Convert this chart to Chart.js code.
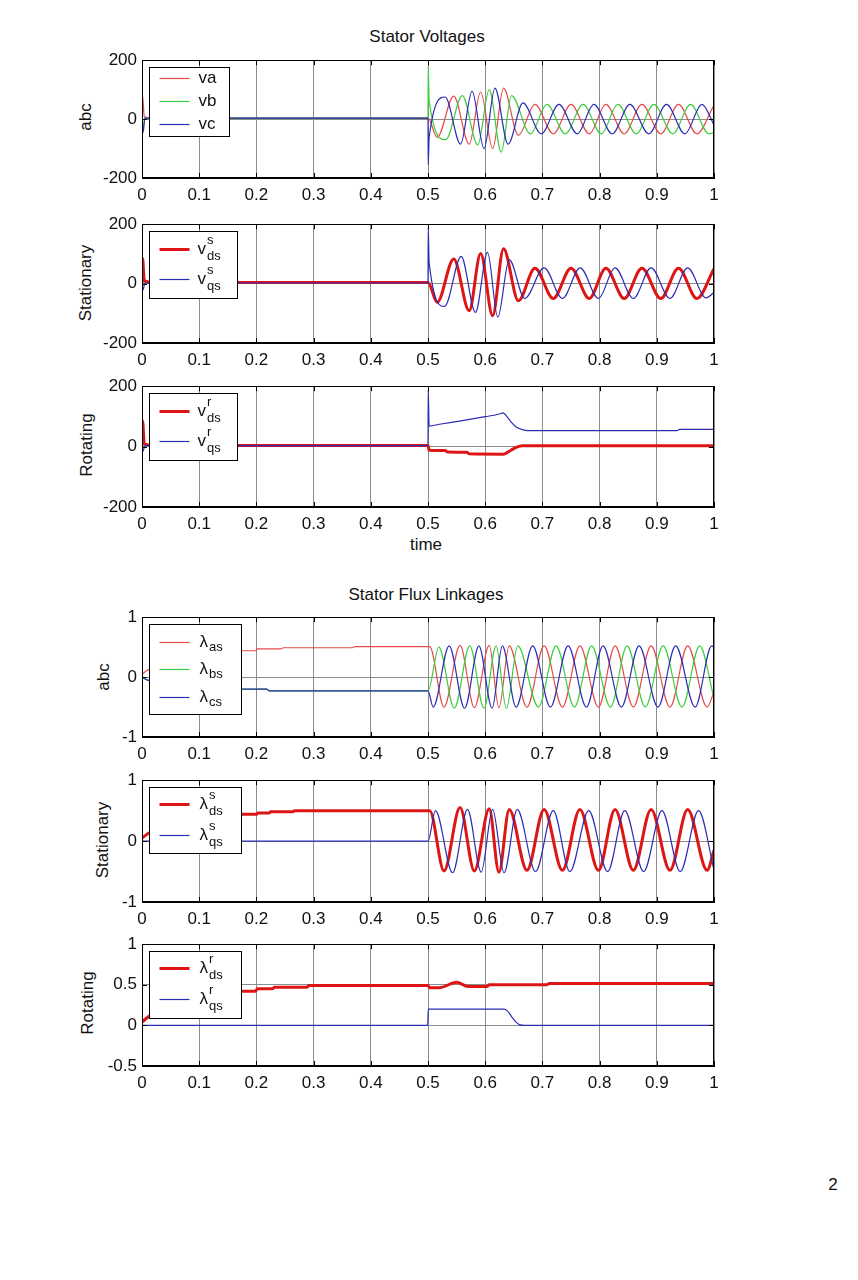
<!DOCTYPE html>
<html>
<head>
<meta charset="utf-8">
<title>Stator Voltages / Stator Flux Linkages</title>
<script src="https://cdn.jsdelivr.net/npm/chart.js@4.4.1/dist/chart.umd.min.js"></script>
<style>
  body { margin: 0; background: #fff; }
  #page { position: relative; width: 858px; height: 1280px; font-family: "Liberation Sans", Arial, sans-serif; color: #111; overflow: hidden; }
  #page canvas { position: absolute; left: 0; }
  .txt { position: absolute; white-space: nowrap; font-size: 17px; transform: translate(-50%, -50%); }
  .ylab { position: absolute; white-space: nowrap; font-size: 17px; transform: translate(-50%, -50%) rotate(-90deg); }
</style>
</head>
<body>
<div id="page">
  <div class="txt" style="left:427px;top:37px">Stator Voltages</div>
  <div class="ylab" style="left:86px;top:117px">abc</div>
  <div class="ylab" style="left:86px;top:283px">Stationary</div>
  <div class="ylab" style="left:87px;top:445px">Rotating</div>
  <div class="txt" style="left:426px;top:545px">time</div>

  <div class="txt" style="left:426px;top:595px">Stator Flux Linkages</div>
  <div class="ylab" style="left:104px;top:677px">abc</div>
  <div class="ylab" style="left:103px;top:840px">Stationary</div>
  <div class="ylab" style="left:88px;top:1003px">Rotating</div>

  <div class="txt" style="left:833px;top:1185px">2</div>

  <canvas id="c1"></canvas>
  <canvas id="c2"></canvas>
  <canvas id="c3"></canvas>
  <canvas id="c4"></canvas>
  <canvas id="c5"></canvas>
  <canvas id="c6"></canvas>
</div>

<script>
  // ---- tick values ----
  const xTickValues = [0, 0.1, 0.2, 0.3, 0.4, 0.5, 0.6, 0.7, 0.8, 0.9, 1];
  const voltTicks = [-200, 0, 200];
  const fluxTicks = [-1, 0, 1];
  const rotFluxTicks = [-0.5, 0, 0.5, 1];

  // ---- stator voltages, abc frame: [time, value] ----
  const vaPts = [[0,0],[0.001,80],[0.004,8],[0.02,3],[0.5,3],[0.516,-62],[0.545,78],[0.572,-85],[0.592,92],[0.613,-100],[0.632,105],[0.658,-55],[0.687,50],[0.719,-50],[0.750,50],[0.782,-50],[0.811,50],[0.843,-50],[0.874,50],[0.907,-50],[0.938,50],[0.970,-50],[1.0,48]];
  const vbPts = [[0,0],[0.002,-30],[0.005,3],[0.5,3],[0.5004,180],[0.502,62],[0.531,-70],[0.560,80],[0.587,-88],[0.607,100],[0.628,-112],[0.646,80],[0.679,-50],[0.708,50],[0.740,-50],[0.771,50],[0.803,-50],[0.832,50],[0.864,-50],[0.895,50],[0.928,-50],[0.959,50],[0.991,-50],[1.0,-45]];
  const vcPts = [[0,0],[0.002,-45],[0.005,3],[0.5,3],[0.5004,-155],[0.502,-62],[0.530,75],[0.557,-85],[0.577,95],[0.598,-100],[0.617,105],[0.640,-85],[0.666,55],[0.698,-50],[0.729,50],[0.761,-50],[0.790,50],[0.822,-50],[0.853,50],[0.886,-50],[0.917,50],[0.949,-50],[0.979,50],[1.0,-20]];

  // ---- stator voltages, stationary frame ----
  const vdsSPts = [[0,0],[0.001,85],[0.004,10],[0.02,4],[0.5,4],[0.516,-63],[0.545,83],[0.572,-91],[0.592,101],[0.613,-108],[0.632,117],[0.658,-58],[0.687,52],[0.719,-50],[0.750,52],[0.782,-50],[0.811,52],[0.843,-50],[0.874,52],[0.907,-50],[0.938,52],[0.970,-50],[1.0,50]];
  const vqsSPts = [[0,0],[0.002,-20],[0.005,2],[0.5,2],[0.5004,190],[0.502,70],[0.529,-77],[0.558,92],[0.583,-97],[0.604,105],[0.622,-113],[0.642,81],[0.669,-50],[0.703,53],[0.735,-50],[0.766,53],[0.798,-50],[0.827,53],[0.859,-50],[0.890,53],[0.923,-50],[0.954,53],[0.986,-48],[1.0,-30]];

  // ---- stator voltages, rotating frame ----
  const vdsRPts = [[0,0],[0.001,85],[0.004,10],[0.02,4],[0.5,4],[0.502,-12],[0.53,-13],[0.534,-18],[0.568,-19],[0.572,-24],[0.632,-25],[0.645,-12],[0.655,-2],[0.665,3],[1.0,3]];
  const vqsRPts = [[0,0],[0.002,-15],[0.005,3],[0.5,3],[0.5004,190],[0.502,68],[0.52,74],[0.56,86],[0.60,99],[0.625,108],[0.631,112],[0.637,102],[0.645,82],[0.655,64],[0.665,56],[0.675,53],[0.935,53],[0.94,57],[1.0,57]];

  // ---- stator flux linkages, abc frame ----
  const lasPts = [[0,0.05],[0.01,0.12],[0.05,0.3],[0.1,0.4],[0.17,0.44],[0.198,0.44],[0.202,0.47],[0.243,0.47],[0.247,0.49],[0.368,0.49],[0.372,0.51],[0.503,0.51],[0.528,-0.5],[0.556,0.53],[0.581,-0.51],[0.607,0.53],[0.624,-0.51],[0.642,0.52],[0.673,-0.5],[0.703,0.52],[0.735,-0.5],[0.7655,0.52],[0.798,-0.5],[0.827,0.52],[0.859,-0.5],[0.890,0.52],[0.923,-0.5],[0.954,0.52],[0.988,-0.5],[1.0,-0.25]];
  const lbsPts = [[0,0],[0.01,-0.05],[0.05,-0.15],[0.1,-0.19],[0.17,-0.2],[0.218,-0.2],[0.222,-0.23],[0.5,-0.23],[0.519,0.5],[0.546,-0.52],[0.573,0.52],[0.598,-0.52],[0.619,0.52],[0.637,-0.52],[0.657,0.52],[0.693,-0.5],[0.724,0.52],[0.756,-0.5],[0.786,0.52],[0.819,-0.5],[0.848,0.52],[0.880,-0.5],[0.911,0.52],[0.944,-0.5],[0.975,0.52],[1.0,-0.35]];
  const lcsPts = [[0,0],[0.01,-0.05],[0.05,-0.15],[0.1,-0.19],[0.17,-0.2],[0.218,-0.2],[0.222,-0.23],[0.5,-0.23],[0.509,-0.5],[0.537,0.52],[0.564,-0.52],[0.589,0.52],[0.612,-0.52],[0.630,0.52],[0.654,-0.5],[0.683,0.52],[0.714,-0.5],[0.745,0.52],[0.777,-0.5],[0.806,0.52],[0.838,-0.5],[0.869,0.52],[0.902,-0.5],[0.933,0.52],[0.967,-0.5],[0.996,0.52],[1.0,0.5]];

  // ---- stator flux linkages, stationary frame ----
  const ldsSPts = [[0,0.05],[0.01,0.12],[0.05,0.3],[0.1,0.4],[0.17,0.44],[0.2,0.44],[0.203,0.46],[0.222,0.46],[0.225,0.48],[0.263,0.48],[0.267,0.5],[0.503,0.5],[0.528,-0.49],[0.556,0.55],[0.581,-0.49],[0.607,0.53],[0.624,-0.51],[0.642,0.52],[0.673,-0.48],[0.703,0.52],[0.735,-0.48],[0.7655,0.52],[0.798,-0.48],[0.827,0.52],[0.859,-0.48],[0.890,0.52],[0.923,-0.48],[0.954,0.52],[0.988,-0.48],[1.0,-0.15]];
  const lqsSPts = [[0,0],[0.5,0],[0.513,0.5],[0.543,-0.52],[0.569,0.52],[0.593,-0.51],[0.613,0.52],[0.633,-0.52],[0.656,0.52],[0.688,-0.5],[0.719,0.5],[0.748,-0.5],[0.781,0.5],[0.814,-0.5],[0.844,0.5],[0.877,-0.5],[0.909,0.5],[0.941,-0.5],[0.973,0.5],[1.0,-0.47]];

  // ---- stator flux linkages, rotating frame ----
  const ldsRPts = [[0,0.04],[0.01,0.1],[0.05,0.3],[0.1,0.38],[0.17,0.42],[0.198,0.42],[0.202,0.45],[0.228,0.45],[0.232,0.47],[0.288,0.47],[0.292,0.49],[0.5,0.49],[0.503,0.465],[0.52,0.465],[0.55,0.53],[0.57,0.48],[0.603,0.48],[0.607,0.5],[0.708,0.5],[0.712,0.515],[1.0,0.515]];
  const lqsRPts = [[0,0],[0.4995,0],[0.5005,0.2],[0.633,0.2],[0.64,0.17],[0.647,0.1],[0.654,0.04],[0.66,0.01],[0.668,0],[1.0,0]];

  // ---- colours ----
  const RED = '#e44a4a';
  const RED_THICK = '#dd1515';
  const GREEN = '#3fcc3f';
  const BLUE = '#2c2cb4';
  const FONT = '"Liberation Sans", Arial, sans-serif';

  Chart.defaults.font.family = FONT;
  Chart.defaults.font.size = 17;
  Chart.defaults.color = '#111';

  // draws "main" with optional stacked superscript and subscript
  function drawLabel(ctx, x, y, lab) {
    ctx.fillStyle = '#111';
    ctx.textAlign = 'left';
    ctx.textBaseline = 'middle';
    ctx.font = '17px ' + FONT;
    ctx.fillText(lab.main, x, y);
    const w = ctx.measureText(lab.main).width;
    ctx.font = '13px ' + FONT;
    if (lab.sup) ctx.fillText(lab.sup, x + w + 1, y - 9);
    if (lab.sub) ctx.fillText(lab.sub, x + w + 1, lab.sup ? y + 7 : y + 5);
  }

  // MATLAB look: full frame, inward ticks and an opaque boxed legend
  const matlabFrame = {
    id: 'matlabFrame',
    afterDatasetsDraw(chart, args, opts) {
      const { ctx, chartArea: a, scales } = chart;
      ctx.save();
      ctx.strokeStyle = '#000';
      ctx.lineWidth = 1;
      ctx.beginPath();
      scales.x.ticks.forEach(t => {
        const px = Math.round(scales.x.getPixelForValue(t.value)) + 0.5;
        ctx.moveTo(px, a.top); ctx.lineTo(px, a.top + 5);
        ctx.moveTo(px, a.bottom); ctx.lineTo(px, a.bottom - 5);
      });
      scales.y.ticks.forEach(t => {
        const py = Math.round(scales.y.getPixelForValue(t.value)) + 0.5;
        ctx.moveTo(a.left, py); ctx.lineTo(a.left + 5, py);
        ctx.moveTo(a.right, py); ctx.lineTo(a.right - 5, py);
      });
      ctx.stroke();
      ctx.strokeRect(Math.round(a.left) + 0.5, Math.round(a.top) + 0.5, Math.round(a.width) - 1, Math.round(a.height) - 1);

      const lg = opts.legend;
      if (lg) {
        const bx = Math.round(a.left) + 7 + 0.5;
        const by = Math.round(a.top) + 7 + 0.5;
        ctx.fillStyle = '#fff';
        ctx.fillRect(bx, by, lg.w, lg.h);
        ctx.strokeStyle = '#000';
        ctx.lineWidth = 1;
        ctx.strokeRect(bx, by, lg.w, lg.h);
        lg.rows.forEach((row, i) => {
          const ds = chart.data.datasets[i];
          const y = by + row;
          ctx.strokeStyle = ds.borderColor;
          ctx.lineWidth = ds.borderWidth;
          ctx.beginPath();
          ctx.moveTo(bx + 10, y);
          ctx.lineTo(bx + 40, y);
          ctx.stroke();
          drawLabel(ctx, bx + lg.textX, y, lg.labels[i]);
        });
      }
      ctx.restore();
    }
  };

  function makeChart(id, frameTop, frameBottom, yMin, yMax, yTicks, series, legend) {
    const canvas = document.getElementById(id);
    const padTop = 12;
    const axisH = 30;
    const h = frameBottom - frameTop + padTop + axisH + 4;
    canvas.width = 858;
    canvas.height = h;
    canvas.style.top = (frameTop - padTop) + 'px';

    return new Chart(canvas, {
      type: 'line',
      data: {
        // later series are drawn on top, as in the original plot
        datasets: series.map((s, i) => ({
          data: s.pts.map(p => ({ x: p[0], y: p[1] })),
          borderColor: s.color,
          borderWidth: s.width,
          order: series.length - i,
          pointRadius: 0,
          fill: false,
          cubicInterpolationMode: 'monotone'
        }))
      },
      options: {
        responsive: false,
        animation: false,
        events: [],
        layout: { padding: { left: 0, right: 144, top: padTop, bottom: 4 } },
        plugins: {
          legend: { display: false },
          tooltip: { enabled: false },
          matlabFrame: { legend: legend }
        },
        scales: {
          x: {
            type: 'linear',
            min: 0,
            max: 1,
            afterFit: (sc) => { sc.height = axisH; },
            afterBuildTicks: (sc) => { sc.ticks = xTickValues.map(v => ({ value: v })); },
            ticks: {
              padding: 7,
              maxRotation: 0,
              autoSkip: false,
              callback: (v) => String(Number(v.toFixed(2)))
            },
            grid: { color: '#8c8c8c', lineWidth: 1, drawTicks: false },
            border: { display: true, color: '#000' }
          },
          y: {
            min: yMin,
            max: yMax,
            afterFit: (sc) => { sc.width = 142; },
            afterBuildTicks: (sc) => { sc.ticks = yTicks.map(v => ({ value: v })); },
            ticks: {
              padding: 5,
              autoSkip: false,
              callback: (v) => String(v)
            },
            grid: { color: '#8c8c8c', lineWidth: 1, drawTicks: false },
            border: { display: true, color: '#000' }
          }
        }
      },
      plugins: [matlabFrame]
    });
  }

  // ---- voltages ----
  makeChart('c1', 57, 178, -200, 200, voltTicks,
    [{ pts: vaPts, color: RED, width: 1.2 }, { pts: vbPts, color: GREEN, width: 1.2 }, { pts: vcPts, color: BLUE, width: 1.2 }],
    { w: 80, h: 69, textX: 49, rows: [11, 34, 57],
      labels: [{ main: 'va' }, { main: 'vb' }, { main: 'vc' }] });

  makeChart('c2', 221, 343, -200, 200, voltTicks,
    [{ pts: vdsSPts, color: RED_THICK, width: 3 }, { pts: vqsSPts, color: BLUE, width: 1.2 }],
    { w: 88, h: 67, textX: 48, rows: [18, 48],
      labels: [{ main: 'v', sup: 's', sub: 'ds' }, { main: 'v', sup: 's', sub: 'qs' }] });

  makeChart('c3', 383, 507, -200, 200, voltTicks,
    [{ pts: vdsRPts, color: RED_THICK, width: 3 }, { pts: vqsRPts, color: BLUE, width: 1.2 }],
    { w: 88, h: 67, textX: 48, rows: [18, 48],
      labels: [{ main: 'v', sup: 'r', sub: 'ds' }, { main: 'v', sup: 'r', sub: 'qs' }] });

  // ---- flux linkages ----
  makeChart('c4', 614, 737, -1, 1, fluxTicks,
    [{ pts: lasPts, color: RED, width: 1.2 }, { pts: lbsPts, color: GREEN, width: 1.2 }, { pts: lcsPts, color: BLUE, width: 1.2 }],
    { w: 92, h: 90, textX: 50, rows: [18, 45, 73],
      labels: [{ main: 'λ', sub: 'as' }, { main: 'λ', sub: 'bs' }, { main: 'λ', sub: 'cs' }] });

  makeChart('c5', 777, 902, -1, 1, fluxTicks,
    [{ pts: ldsSPts, color: RED_THICK, width: 3 }, { pts: lqsSPts, color: BLUE, width: 1.2 }],
    { w: 92, h: 66, textX: 50, rows: [17, 48],
      labels: [{ main: 'λ', sup: 's', sub: 'ds' }, { main: 'λ', sup: 's', sub: 'qs' }] });

  makeChart('c6', 941, 1066, -0.5, 1, rotFluxTicks,
    [{ pts: ldsRPts, color: RED_THICK, width: 3 }, { pts: lqsRPts, color: BLUE, width: 1.2 }],
    { w: 92, h: 67, textX: 50, rows: [17, 48],
      labels: [{ main: 'λ', sup: 'r', sub: 'ds' }, { main: 'λ', sup: 'r', sub: 'qs' }] });
</script>
</body>
</html>
